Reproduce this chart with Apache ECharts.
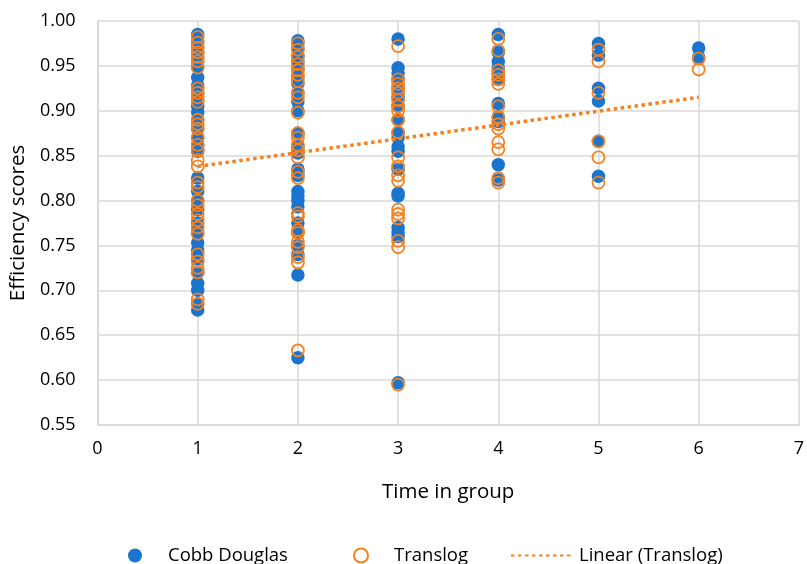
<!DOCTYPE html>
<html>
<head>
<meta charset="utf-8">
<script src="https://cdn.jsdelivr.net/npm/echarts@6/dist/echarts.min.js"></script>
<style>
  html, body { margin: 0; padding: 0; background: #fff; }
  #chart { width: 807px; height: 564px; }
</style>
</head>
<body>
<div id="chart"></div>
<script>
// Cobb Douglas scores by time in group
const cobbG1 = [0.985, 0.978, 0.972, 0.965, 0.958, 0.95, 0.937, 0.928, 0.92, 0.912, 0.905, 0.898, 0.89, 0.88, 0.87, 0.862, 0.855, 0.825, 0.81, 0.80, 0.79, 0.775, 0.765, 0.753, 0.745, 0.735, 0.72, 0.708, 0.70, 0.685, 0.678]
const cobbG2 = [0.978, 0.97, 0.962, 0.955, 0.947, 0.937, 0.93, 0.92, 0.91, 0.90, 0.875, 0.86, 0.853, 0.835, 0.828, 0.81, 0.805, 0.80, 0.793, 0.775, 0.765, 0.75, 0.74, 0.717, 0.625]
const cobbG3 = [0.98, 0.948, 0.942, 0.935, 0.925, 0.915, 0.905, 0.89, 0.875, 0.87, 0.86, 0.855, 0.835, 0.808, 0.805, 0.77, 0.765, 0.76, 0.597]
const cobbG4 = [0.985, 0.965, 0.955, 0.948, 0.942, 0.935, 0.908, 0.893, 0.888, 0.84, 0.823]
const cobbG5 = [0.975, 0.962, 0.925, 0.911, 0.866, 0.827]
const cobbG6 = [0.97, 0.96]

// Translog scores by time in group
const transG1 = [0.982, 0.976, 0.97, 0.965, 0.96, 0.955, 0.948, 0.925, 0.92, 0.915, 0.91, 0.89, 0.885, 0.88, 0.87, 0.862, 0.856, 0.845, 0.838, 0.82, 0.815, 0.80, 0.795, 0.785, 0.778, 0.77, 0.763, 0.74, 0.732, 0.725, 0.72, 0.69, 0.685]
const transG2 = [0.975, 0.968, 0.96, 0.952, 0.945, 0.94, 0.933, 0.92, 0.915, 0.898, 0.875, 0.87, 0.862, 0.856, 0.848, 0.832, 0.825, 0.786, 0.782, 0.767, 0.764, 0.754, 0.748, 0.737, 0.731, 0.633]
const transG3 = [0.972, 0.935, 0.93, 0.925, 0.92, 0.912, 0.905, 0.90, 0.89, 0.876, 0.848, 0.838, 0.828, 0.822, 0.79, 0.785, 0.78, 0.755, 0.748, 0.595]
const transG4 = [0.98, 0.967, 0.945, 0.94, 0.935, 0.93, 0.905, 0.893, 0.885, 0.88, 0.865, 0.857, 0.825, 0.82]
const transG5 = [0.968, 0.955, 0.92, 0.866, 0.848, 0.82]
const transG6 = [0.958, 0.946]

// Linear trend of Translog (end points)
const trendX = [1, 6]
const trendY = [0.838, 0.915]

const BLUE = '#1B75CF'
const ORANGE = '#F58220'
const FONT = 'Open Sans'

function toPoints(groups) {
  const pts = []
  groups.forEach((vals, i) => {
    vals.forEach(v => pts.push([i + 1, v]))
  })
  return pts
}

const chart = echarts.init(document.getElementById('chart'), null, { renderer: 'canvas' })

const legendText = { fontSize: 18.5, color: '#000', fontFamily: FONT }

const option = {
  animation: false,
  backgroundColor: '#fff',
  textStyle: { fontFamily: FONT },
  grid: { left: 97, right: 4, top: 21, bottom: 139 },
  xAxis: {
    type: 'value',
    min: 0,
    max: 7,
    interval: 1,
    name: 'Time in group',
    nameLocation: 'middle',
    nameGap: 57,
    nameTextStyle: { fontSize: 20.5, color: '#000', fontFamily: FONT },
    axisLine: { show: true, lineStyle: { color: '#d9d9d9', width: 1.5 } },
    axisTick: { show: false },
    axisLabel: { margin: 15, fontSize: 18, color: '#000', fontFamily: FONT },
    splitLine: { show: true, lineStyle: { color: '#d9d9d9', width: 1.5 } }
  },
  yAxis: {
    type: 'value',
    min: 0.55,
    max: 1.0,
    interval: 0.05,
    name: 'Efficiency scores',
    nameLocation: 'middle',
    nameGap: 67,
    nameTextStyle: { fontSize: 20.5, color: '#000', fontFamily: FONT },
    axisLine: { show: true, lineStyle: { color: '#d9d9d9', width: 1.5 } },
    axisTick: { show: false },
    axisLabel: {
      margin: 22,
      fontSize: 18,
      color: '#000',
      fontFamily: FONT,
      formatter: v => v.toFixed(2)
    },
    splitLine: { show: true, lineStyle: { color: '#d9d9d9', width: 1.5 } }
  },
  legend: [
    {
      data: [{ name: 'Cobb Douglas', icon: 'circle' }],
      left: 123,
      top: 541,
      itemWidth: 14,
      itemHeight: 14,
      textStyle: Object.assign({ padding: [0, 0, 0, 21] }, legendText)
    },
    {
      data: [{ name: 'Translog', icon: 'circle' }],
      left: 348,
      top: 541,
      itemWidth: 14,
      itemHeight: 14,
      textStyle: Object.assign({ padding: [0, 0, 0, 21] }, legendText)
    },
    {
      data: [{ name: 'Linear (Translog)', itemStyle: { opacity: 0 } }],
      left: 505,
      top: 541,
      itemWidth: 60,
      itemHeight: 14,
      textStyle: Object.assign({ padding: [0, 0, 0, 3] }, legendText)
    }
  ],
  series: [
    {
      name: 'Cobb Douglas',
      type: 'scatter',
      symbol: 'circle',
      symbolSize: 13.5,
      itemStyle: { color: BLUE, opacity: 1 },
      data: toPoints([cobbG1, cobbG2, cobbG3, cobbG4, cobbG5, cobbG6])
    },
    {
      name: 'Translog',
      type: 'scatter',
      symbol: 'circle',
      symbolSize: 12,
      itemStyle: { color: 'rgba(255,255,255,0)', borderColor: ORANGE, borderWidth: 1.8, opacity: 1 },
      data: toPoints([transG1, transG2, transG3, transG4, transG5, transG6])
    },
    {
      name: 'Linear (Translog)',
      type: 'line',
      symbol: 'none',
      itemStyle: { color: ORANGE },
      lineStyle: { color: ORANGE, width: 3.5, type: [3.5, 3.5] },
      data: trendX.map((x, i) => [x, trendY[i]])
    }
  ]
}

chart.setOption(option)
</script>
</body>
</html>
